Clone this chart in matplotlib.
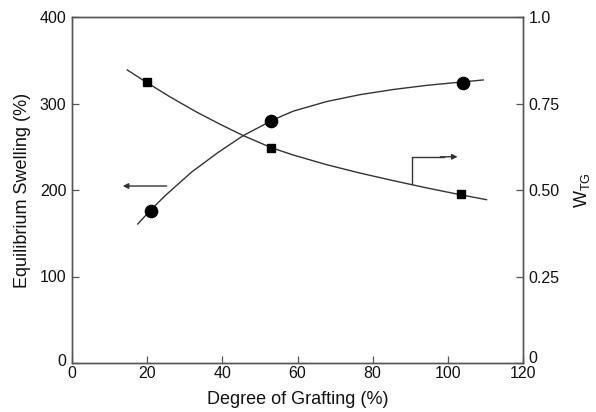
import matplotlib
matplotlib.use("Agg")
import matplotlib.pyplot as plt
import matplotlib.transforms as mtransforms

plt.rcParams['font.family'] = ['Liberation Sans', 'DejaVu Sans']
plt.rcParams['mathtext.fontset'] = 'custom'
plt.rcParams['mathtext.rm'] = 'Liberation Sans'

# Data: equilibrium swelling (left axis, circles)
swell_x = [21, 53, 104]
swell_y = [176, 280, 324]
# W_TG (right axis, squares)
wtg_x = [20, 53, 103.5]
wtg_y = [0.812, 0.622, 0.487]

# Trend curves
swell_curve_x = [17.5, 20.8, 24.8, 31.9, 38.9, 45.6, 53.1, 56.2, 58.9, 67.8,
                 76.6, 85.5, 94.4, 104.0, 109.4]
swell_curve_y = [160.7, 176.2, 193.5, 221.0, 243.5, 263.0, 280.1, 286.2, 291.2, 302.3,
                 310.2, 316.2, 321.0, 325.0, 327.2]
wtg_curve_x = [14.7, 19.7, 26.1, 33.2, 39.4, 45.6, 53.1, 58.9, 67.8, 76.6,
               85.5, 94.4, 103.5, 110.3]
wtg_curve_y = [0.847, 0.812, 0.769, 0.725, 0.690, 0.657, 0.622, 0.601, 0.573, 0.549,
               0.527, 0.506, 0.486, 0.472]

x_ticks = [0, 20, 40, 60, 80, 100, 120]
left_ticks = [0, 100, 200, 300, 400]
right_ticks = [0, 0.25, 0.5, 0.75, 1.0]
right_labels = ['0', '0.25', '0.50', '0.75', '1.0']

fig = plt.figure(figsize=(5.96, 4.12), dpi=100)
ax = fig.add_axes([72/596, 49/412, 451/596, 346/412])
ax2 = ax.twinx()

line_c = '#333333'
spine_c = '#555555'

ax.plot(swell_curve_x, swell_curve_y, color=line_c, lw=1.0, zorder=2)
ax.plot(swell_x, swell_y, 'o', color='black', markersize=8.8, zorder=3)
ax2.plot(wtg_curve_x, wtg_curve_y, color=line_c, lw=1.0, zorder=2)
ax2.plot(wtg_x, wtg_y, 's', color='black', markersize=6.3, zorder=3)

ax.set_xlim(0, 120)
ax.set_ylim(0, 400)
ax2.set_ylim(0, 1.0)
ax.set_xticks(x_ticks)
ax.set_yticks(left_ticks)
ax2.set_yticks(right_ticks)
ax2.set_yticklabels(right_labels)

for a in (ax, ax2):
    for s in a.spines.values():
        s.set_color(spine_c)
        s.set_linewidth(1.0)
    a.tick_params(direction='in', length=5, width=0.9, color=spine_c,
                  labelsize=11.5, labelcolor='#111111', pad=4)
ax.tick_params(axis='x', pad=2.5)

# nudge the bottom y labels up slightly, as in the reference
for lab, dy in ((ax2.get_yticklabels()[0], 4), (ax.get_yticklabels()[0], 2)):
    lab.set_transform(lab.get_transform() +
                      mtransforms.ScaledTranslation(0, dy / 72, fig.dpi_scale_trans))

ax.set_xlabel('Degree of Grafting (%)', fontsize=13, color='#111111', labelpad=7)
ax.set_ylabel('Equilibrium Swelling (%)', fontsize=13, color='#111111', labelpad=6)
ax2.set_ylabel(r'W$_{\mathrm{TG}}$', fontsize=13, color='#111111', labelpad=9, rotation=90)

# arrows
ax.annotate('', xy=(13.5, 204.6), xytext=(25.2, 204.6),
            arrowprops=dict(arrowstyle='-|>', color=line_c, lw=1.0,
                            mutation_scale=8, shrinkA=0, shrinkB=0))
ax2.plot([90.4, 90.4, 99.0], [0.517, 0.596, 0.596], color=line_c, lw=1.0)
ax2.annotate('', xy=(102.6, 0.596), xytext=(98.0, 0.596),
             arrowprops=dict(arrowstyle='-|>', color=line_c, lw=1.0,
                             mutation_scale=8, shrinkA=0, shrinkB=0))

fig.savefig('out.png', dpi=100)
